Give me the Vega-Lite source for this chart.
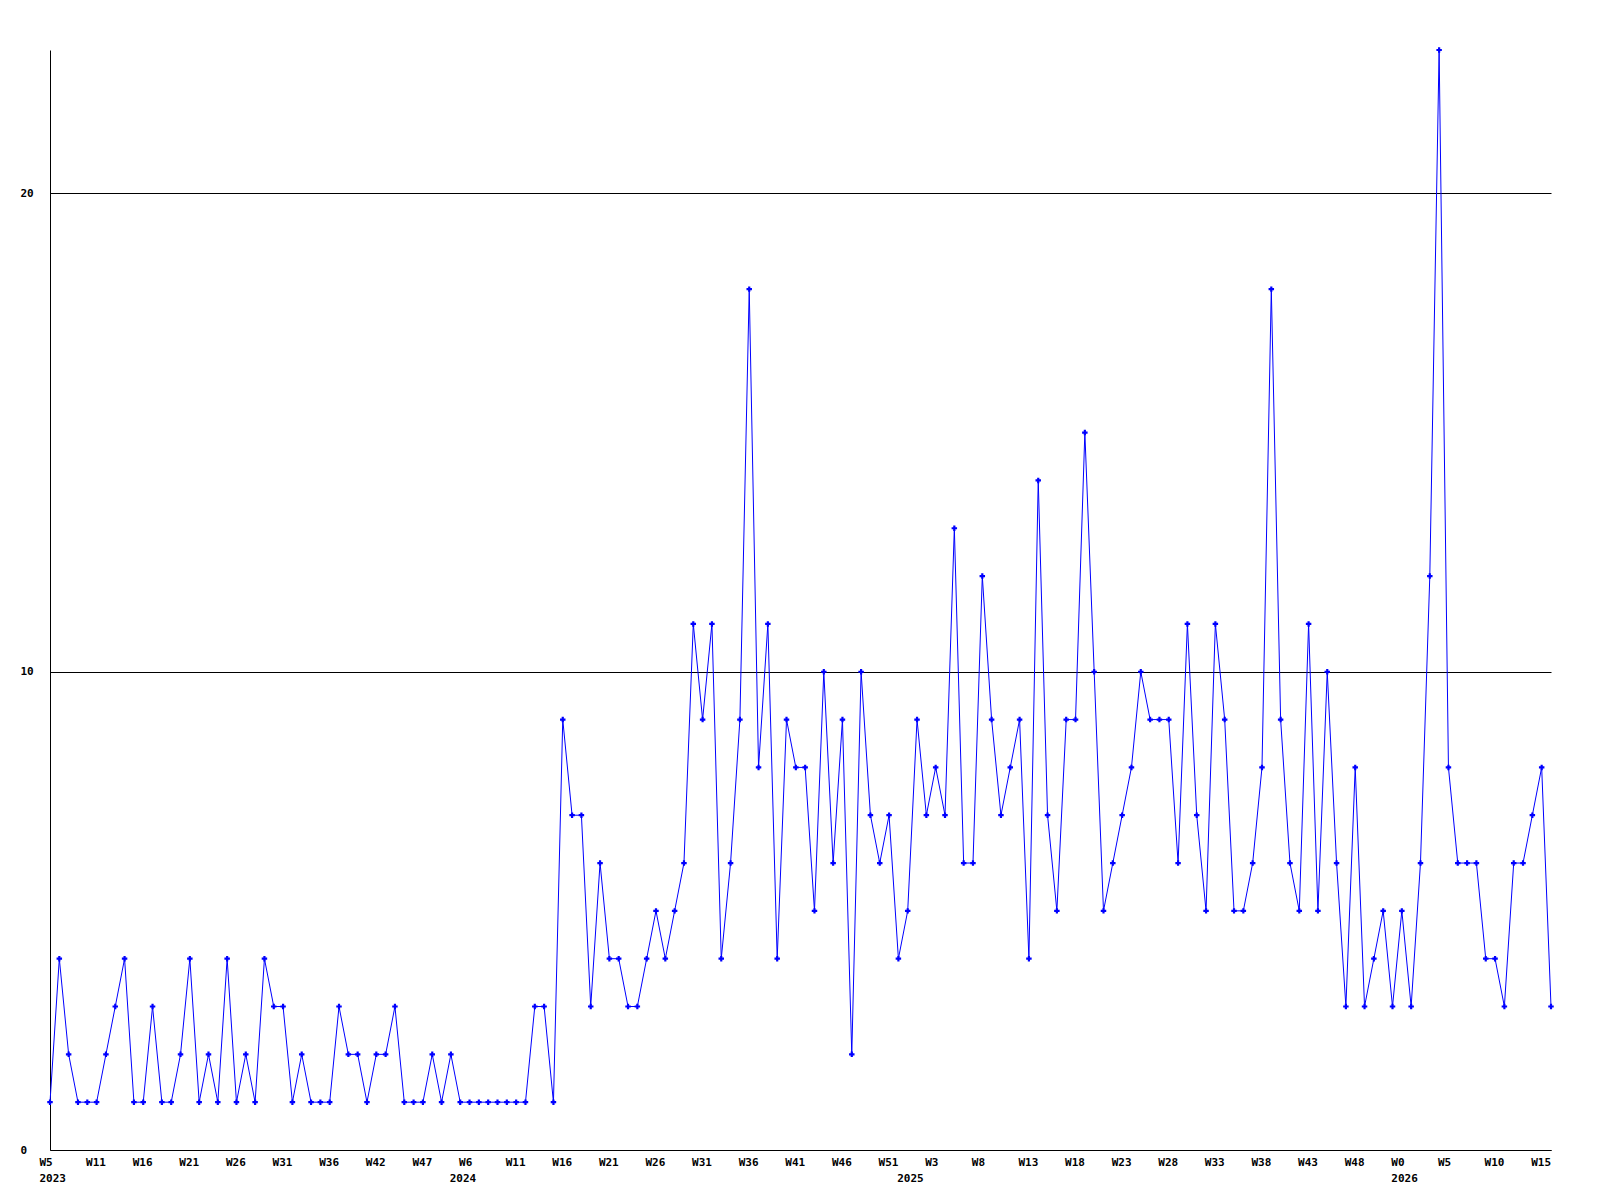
{
 "$schema": "https://vega.github.io/schema/vega-lite/v6.json",
 "width": 1501,
 "height": 1100,
 "autosize": {"type": "none"},
 "padding": {"left": 50, "top": 50, "right": 49, "bottom": 50},
 "background": "white",
 "config": {"view": {"stroke": null}},
 "data": {"values": [
  {"i":0,"v":1},{"i":1,"v":4},{"i":2,"v":2},{"i":3,"v":1},{"i":4,"v":1},{"i":5,"v":1},{"i":6,"v":2},{"i":7,"v":3},{"i":8,"v":4},{"i":9,"v":1},
  {"i":10,"v":1},{"i":11,"v":3},{"i":12,"v":1},{"i":13,"v":1},{"i":14,"v":2},{"i":15,"v":4},{"i":16,"v":1},{"i":17,"v":2},{"i":18,"v":1},{"i":19,"v":4},
  {"i":20,"v":1},{"i":21,"v":2},{"i":22,"v":1},{"i":23,"v":4},{"i":24,"v":3},{"i":25,"v":3},{"i":26,"v":1},{"i":27,"v":2},{"i":28,"v":1},{"i":29,"v":1},
  {"i":30,"v":1},{"i":31,"v":3},{"i":32,"v":2},{"i":33,"v":2},{"i":34,"v":1},{"i":35,"v":2},{"i":36,"v":2},{"i":37,"v":3},{"i":38,"v":1},{"i":39,"v":1},
  {"i":40,"v":1},{"i":41,"v":2},{"i":42,"v":1},{"i":43,"v":2},{"i":44,"v":1},{"i":45,"v":1},{"i":46,"v":1},{"i":47,"v":1},{"i":48,"v":1},{"i":49,"v":1},
  {"i":50,"v":1},{"i":51,"v":1},{"i":52,"v":3},{"i":53,"v":3},{"i":54,"v":1},{"i":55,"v":9},{"i":56,"v":7},{"i":57,"v":7},{"i":58,"v":3},{"i":59,"v":6},
  {"i":60,"v":4},{"i":61,"v":4},{"i":62,"v":3},{"i":63,"v":3},{"i":64,"v":4},{"i":65,"v":5},{"i":66,"v":4},{"i":67,"v":5},{"i":68,"v":6},{"i":69,"v":11},
  {"i":70,"v":9},{"i":71,"v":11},{"i":72,"v":4},{"i":73,"v":6},{"i":74,"v":9},{"i":75,"v":18},{"i":76,"v":8},{"i":77,"v":11},{"i":78,"v":4},{"i":79,"v":9},
  {"i":80,"v":8},{"i":81,"v":8},{"i":82,"v":5},{"i":83,"v":10},{"i":84,"v":6},{"i":85,"v":9},{"i":86,"v":2},{"i":87,"v":10},{"i":88,"v":7},{"i":89,"v":6},
  {"i":90,"v":7},{"i":91,"v":4},{"i":92,"v":5},{"i":93,"v":9},{"i":94,"v":7},{"i":95,"v":8},{"i":96,"v":7},{"i":97,"v":13},{"i":98,"v":6},{"i":99,"v":6},
  {"i":100,"v":12},{"i":101,"v":9},{"i":102,"v":7},{"i":103,"v":8},{"i":104,"v":9},{"i":105,"v":4},{"i":106,"v":14},{"i":107,"v":7},{"i":108,"v":5},{"i":109,"v":9},
  {"i":110,"v":9},{"i":111,"v":15},{"i":112,"v":10},{"i":113,"v":5},{"i":114,"v":6},{"i":115,"v":7},{"i":116,"v":8},{"i":117,"v":10},{"i":118,"v":9},{"i":119,"v":9},
  {"i":120,"v":9},{"i":121,"v":6},{"i":122,"v":11},{"i":123,"v":7},{"i":124,"v":5},{"i":125,"v":11},{"i":126,"v":9},{"i":127,"v":5},{"i":128,"v":5},{"i":129,"v":6},
  {"i":130,"v":8},{"i":131,"v":18},{"i":132,"v":9},{"i":133,"v":6},{"i":134,"v":5},{"i":135,"v":11},{"i":136,"v":5},{"i":137,"v":10},{"i":138,"v":6},{"i":139,"v":3},
  {"i":140,"v":8},{"i":141,"v":3},{"i":142,"v":4},{"i":143,"v":5},{"i":144,"v":3},{"i":145,"v":5},{"i":146,"v":3},{"i":147,"v":6},{"i":148,"v":12},{"i":149,"v":23},
  {"i":150,"v":8},{"i":151,"v":6},{"i":152,"v":6},{"i":153,"v":6},{"i":154,"v":4},{"i":155,"v":4},{"i":156,"v":3},{"i":157,"v":6},{"i":158,"v":6},{"i":159,"v":7},
  {"i":160,"v":8},{"i":161,"v":3}
 ]},
 "encoding": {
  "x": {
   "field": "i", "type": "quantitative",
   "scale": {"domain": [0, 161], "nice": false, "zero": false},
   "axis": {
    "title": null,
    "values": [0,5,10,15,20,25,30,35,40,44,45,50,55,60,65,70,75,80,85,90,92,95,100,105,110,115,120,125,130,135,140,145,150,155,160],
    "labelExpr": "datum.value == 44 ? ['', '2024'] : datum.value == 92 ? ['', '2025'] : datum.value == 0 ? ['W5', '2023'] : datum.value == 145 ? ['W0', '2026'] : ['W5','W11','W16','W21','W26','W31','W36','W42','W47','W6','W11','W16','W21','W26','W31','W36','W41','W46','W51','W3','W8','W13','W18','W23','W28','W33','W38','W43','W48','W0','W5','W10','W15'][round(datum.value / 5)]",
    "labelAlign": "left",
    "labelOffset": -11,
    "labelBaseline": "top",
    "labelPadding": 6,
    "labelLineHeight": 16,
    "ticks": false,
    "tickSize": 0,
    "grid": false,
    "domainColor": "black",
    "domainWidth": 1,
    "labelColor": "black",
    "labelFont": "DejaVu Sans Mono",
    "labelFontSize": 11,
    "labelFontWeight": "bold",
    "labelOverlap": false,
    "labelFlush": false,
    "labelBound": false
   }
  },
  "y": {
   "field": "v", "type": "quantitative",
   "scale": {"domain": [0, 23], "nice": false, "zero": true},
   "axis": {
    "title": null,
    "values": [0, 10, 20],
    "grid": true,
    "gridColor": "black",
    "gridOpacity": 1,
    "gridWidth": 1,
    "ticks": false,
    "tickSize": 0,
    "labelAlign": "left",
    "labelBaseline": "middle",
    "labelPadding": 30,
    "domainColor": "black",
    "domainWidth": 1,
    "labelColor": "black",
    "labelFont": "DejaVu Sans Mono",
    "labelFontSize": 11,
    "labelFontWeight": "bold",
    "labelOverlap": false,
    "labelFlush": false,
    "labelBound": false
   }
  }
 },
 "layer": [
  {"mark": {"type": "line", "color": "#0000ff", "strokeWidth": 1, "interpolate": "linear"}},
  {"mark": {"type": "point", "shape": "cross", "filled": true, "size": 30, "color": "#0000ff", "opacity": 1}}
 ]
}
